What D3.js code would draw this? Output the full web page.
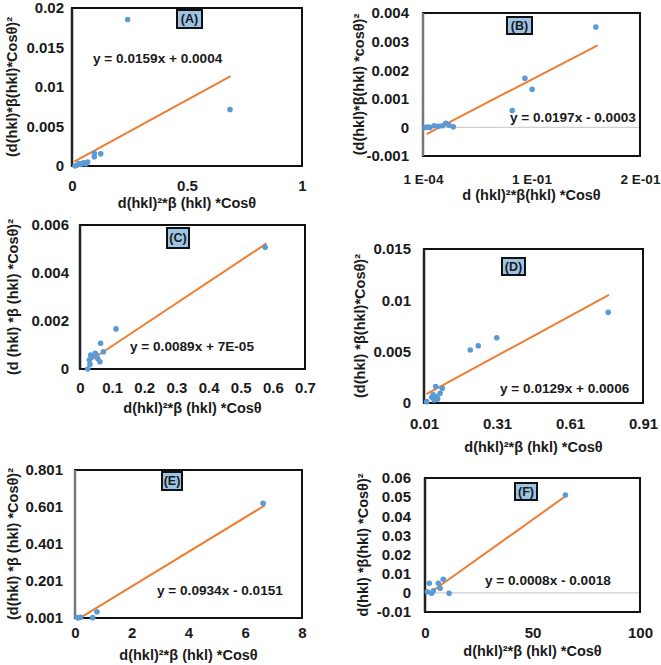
<!DOCTYPE html>
<html><head><meta charset="utf-8">
<script src="https://cdn.jsdelivr.net/npm/d3@7"></script>
<style>
body{margin:0;background:#fff;}
text{font-family:"Liberation Sans",Arial,sans-serif;font-weight:bold;fill:#1a1a1a;}
</style></head>
<body><svg id="c" width="661" height="665"></svg>
<script>
// ---- data ----
const aX = [0.013, 0.02, 0.03, 0.038, 0.05, 0.06, 0.068, 0.097, 0.097, 0.125, 0.242, 0.687];
const aY = [0.0, 0.0001, 0.0003, 0.0002, 0.0004, 0.0003, 0.0005, 0.00116, 0.0016, 0.00154, 0.01854, 0.00716];
const bX = [0.0025, 0.0045, 0.0065, 0.0105, 0.0145, 0.018, 0.021, 0.024, 0.028, 0.0823, 0.094, 0.1007, 0.1594];
const bY = [0.0, 0.00001, 0.0, 0.00006, 0.00004, 0.00006, 0.00014, 0.00008, 0.00002, 0.00059, 0.00172, 0.00133, 0.00351];
const cX = [0.024, 0.031, 0.029, 0.033, 0.036, 0.047, 0.05, 0.055, 0.062, 0.064, 0.073, 0.112, 0.576];
const cY = [0.0, 0.0002, 0.00037, 0.00058, 0.00049, 0.00065, 0.0006, 0.00044, 0.0003, 0.00107, 0.00072, 0.00167, 0.00507];
const dX = [0.021, 0.042, 0.048, 0.052, 0.058, 0.062, 0.066, 0.076, 0.085, 0.2, 0.233, 0.309, 0.767];
const dY = [0.00013, 0.00055, 0.0008, 0.0003, 0.0016, 0.0006, 0.0004, 0.00094, 0.00143, 0.00516, 0.00558, 0.00636, 0.00883];
const eX = [0.08, 0.12, 0.2, 0.62, 0.775, 6.63];
const eY = [0.004, 0.002, 0.005, 0.003, 0.035, 0.621];
const fX = [1.1, 2.0, 3.1, 3.9, 6.2, 7.0, 8.5, 11.2, 65.3];
const fY = [0.0006, 0.005, -0.0002, 0.0011, 0.005, 0.0024, 0.0071, -0.0002, 0.0511];

const panelNames = ["(A)", "(B)", "(C)", "(D)", "(E)", "(F)"];
const slopes = [0.0159, 0.0197, 0.0089, 0.0129, 0.0934, 0.0008];
const intercepts = [0.0004, -0.0003, 0.00007, 0.0006, -0.0151, -0.0018];
const equations = ["y = 0.0159x + 0.0004", "y = 0.0197x - 0.0003", "y = 0.0089x + 7E-05",
                   "y = 0.0129x + 0.0006", "y = 0.0934x - 0.0151", "y = 0.0008x - 0.0018"];
const trendFrom = [0.01, 0.0034, 0.025, 0.02, 0.15, 2];
const trendTo = [0.69, 0.161, 0.58, 0.77, 6.7, 65.3];

const xTicksA = [0, 0.5, 1], xLabA = ["0", "0.5", "1"];
const yTicksA = [0, 0.005, 0.01, 0.015, 0.02], yLabA = ["0", "0.005", "0.01", "0.015", "0.02"];
const xTicksB = [0.0001, 0.1001, 0.2001], xLabB = ["1 E-04", "1 E-01", "2 E-01"];
const yTicksB = [-0.001, 0, 0.001, 0.002, 0.003, 0.004], yLabB = ["-0.001", "0", "0.001", "0.002", "0.003", "0.004"];
const xTicksC = [0, 0.1, 0.2, 0.3, 0.4, 0.5, 0.6, 0.7], xLabC = ["0", "0.1", "0.2", "0.3", "0.4", "0.5", "0.6", "0.7"];
const yTicksC = [0, 0.002, 0.004, 0.006], yLabC = ["0", "0.002", "0.004", "0.006"];
const xTicksD = [0.01, 0.31, 0.61, 0.91], xLabD = ["0.01", "0.31", "0.61", "0.91"];
const yTicksD = [0, 0.005, 0.01, 0.015], yLabD = ["0", "0.005", "0.01", "0.015"];
const xTicksE = [0, 2, 4, 6, 8], xLabE = ["0", "2", "4", "6", "8"];
const yTicksE = [0.001, 0.201, 0.401, 0.601, 0.801], yLabE = ["0.001", "0.201", "0.401", "0.601", "0.801"];
const xTicksF = [0, 50, 100], xLabF = ["0", "50", "100"];
const yTicksF = [-0.01, 0, 0.01, 0.02, 0.03, 0.04, 0.05, 0.06], yLabF = ["-0.01", "0", "0.01", "0.02", "0.03", "0.04", "0.05", "0.06"];

const xTitles = ["d(hkl)²*β (hkl) *Cosθ", "d (hkl)²*β(hkl) *Cosθ", "d(hkl)²*β (hkl) *Cosθ",
                 "d(hkl)²*β (hkl) *Cosθ", "d(hkl)²*β (hkl) *Cosθ", "d(hkl)²*β (hkl) *Cosθ"];
const yTitles = ["(d(hkl)*β(hkl)*Cosθ)²", "(d(hkl)*β(hkl) *cosθ)²", "(d (hkl) *β (hkl) *Cosθ)²",
                 "(d(hkl) *β(hkl)*Cosθ)²", "(d(hkl) *β (hkl) *Cosθ)²", "d(hkl) *β(hkl) *Cosθ)²"];

// ---- layout ----
const layout = [
  {l:72, r:302, t:8, b:166, ylx:64, xly:186, xty:208, ytx:12, zero:false, box:[177,10,25,18], eq:[93,63], leftCol:"#222", xfs:15},
  {l:423, r:640, t:13, b:156, ylx:409, xly:179, xty:200, ytx:359, zero:true, box:[507,17,25,17], eq:[510,122], leftCol:"#777", xfs:13.5},
  {l:80, r:305, t:225, b:369, ylx:69, xly:388, xty:413, ytx:13, zero:false, box:[167,228,22,20], eq:[130,351], leftCol:"#222", xfs:15},
  {l:424, r:643, t:249, b:403, ylx:411, xly:424, xty:452, ytx:360, zero:false, box:[502,258,23,17], eq:[500,393], leftCol:"#222", xfs:15},
  {l:75, r:302, t:470, b:618, ylx:63, xly:633, xty:660, ytx:13, zero:false, box:[162,472,20,18], eq:[157,595], leftCol:"#777", xfs:15},
  {l:425, r:640, t:478, b:612, ylx:411, xly:633, xty:656, ytx:363, zero:true, box:[515,483,22,17], eq:[485,585], leftCol:"#222", xfs:15}
];
const xs = [aX, bX, cX, dX, eX, fX], ys = [aY, bY, cY, dY, eY, fY];
const xT = [xTicksA, xTicksB, xTicksC, xTicksD, xTicksE, xTicksF];
const xL = [xLabA, xLabB, xLabC, xLabD, xLabE, xLabF];
const yT = [yTicksA, yTicksB, yTicksC, yTicksD, yTicksE, yTicksF];
const yL = [yLabA, yLabB, yLabC, yLabD, yLabE, yLabF];

const svg = d3.select("#c");
const FONT = '"Liberation Sans",Arial,sans-serif';

layout.forEach((L, i) => {
  const xt = xT[i], yt = yT[i];
  const x = d3.scaleLinear().domain([xt[0], xt[xt.length-1]]).range([L.l, L.r]);
  const y = d3.scaleLinear().domain([yt[0], yt[yt.length-1]]).range([L.b, L.t]);
  const g = svg.append("g");

  if (L.zero) {
    g.append("line").attr("x1", L.l).attr("x2", L.r).attr("y1", y(0)).attr("y2", y(0))
      .attr("stroke", "#d0d0d0").attr("stroke-width", 1.2);
  }
  // x tick labels
  const xa = d3.axisBottom(x).tickValues(xt).tickFormat((d, k) => xL[i][k]).tickSize(0).tickPadding(0);
  const gx = g.append("g").attr("transform", `translate(0,${L.xly})`).call(xa);
  gx.select(".domain").remove();
  gx.selectAll("text").attr("dy", "0.35em").attr("y", 0).style("font-size", L.xfs + "px").attr("fill", "#1a1a1a")
    .style("font-family", FONT).style("font-weight", "bold");
  // y tick labels
  const ya = d3.axisLeft(y).tickValues(yt).tickFormat((d, k) => yL[i][k]).tickSize(0).tickPadding(0);
  const gy = g.append("g").attr("transform", `translate(${L.ylx},0)`).call(ya);
  gy.select(".domain").remove();
  gy.selectAll("text").attr("x", 0).style("font-size", "15px").attr("fill", "#1a1a1a")
    .style("font-family", FONT).style("font-weight", "bold");

  // frame
  g.append("rect").attr("x", L.l).attr("y", L.t).attr("width", L.r - L.l).attr("height", L.b - L.t)
    .attr("fill", "none").attr("stroke", "#111").attr("stroke-width", 2);
  g.append("line").attr("x1", L.l).attr("x2", L.l).attr("y1", L.t).attr("y2", L.b)
    .attr("stroke", L.leftCol).attr("stroke-width", 2.5);

  // trend line
  const t0 = trendFrom[i], t1 = trendTo[i];
  g.append("line")
    .attr("x1", x(t0)).attr("y1", y(slopes[i]*t0 + intercepts[i]))
    .attr("x2", x(t1)).attr("y2", y(slopes[i]*t1 + intercepts[i]))
    .attr("stroke", "#ED7D31").attr("stroke-width", 2);

  // points
  g.selectAll("circle.p").data(xs[i].map((v, k) => [v, ys[i][k]])).join("circle")
    .attr("cx", d => x(d[0])).attr("cy", d => y(d[1])).attr("r", 2.8).attr("fill", "#5B9BD5");

  // equation
  g.append("text").attr("x", L.eq[0]).attr("y", L.eq[1]).style("font-size", "13.6px").text(equations[i]);

  // panel label
  const bx = L.box;
  g.append("rect").attr("x", bx[0]).attr("y", bx[1]).attr("width", bx[2]).attr("height", bx[3])
    .attr("fill", "#9DC3E6").attr("stroke", "#111").attr("stroke-width", 2);
  g.append("text").attr("x", bx[0] + bx[2]/2).attr("y", bx[1] + bx[3]/2).attr("dy", "0.35em")
    .attr("text-anchor", "middle").style("font-size", "12.5px").text(panelNames[i]);

  // axis titles
  g.append("text").attr("x", (L.l + L.r)/2).attr("y", L.xty).attr("text-anchor", "middle")
    .style("font-size", "14.5px").text(xTitles[i]);
  const cy = (L.t + L.b)/2;
  g.append("text").attr("transform", `translate(${L.ytx},${cy}) rotate(-90)`).attr("text-anchor", "middle")
    .attr("dy", "0.35em").style("font-size", "14.5px").text(yTitles[i]);
});
</script></body></html>
